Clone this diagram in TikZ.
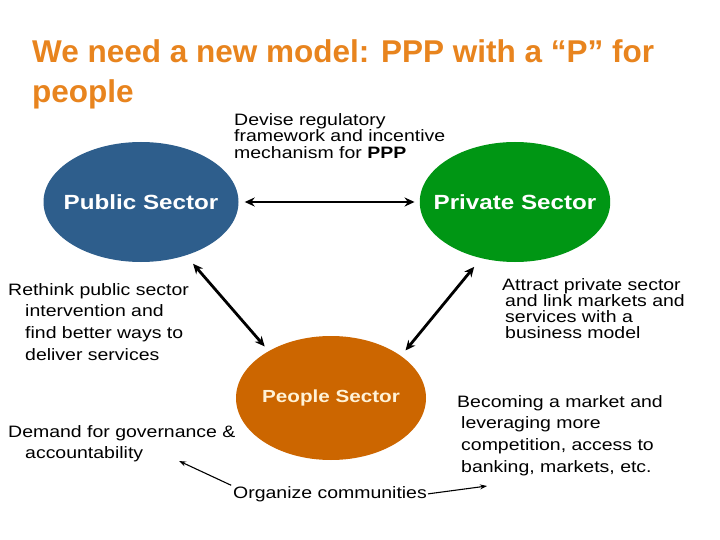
\documentclass[tikz,border=0pt]{standalone}
\usepackage{fontspec}
\setmainfont{Liberation Sans}[FakeStretch=1.18]
\newfontfamily\titlefont{Liberation Sans}
\usetikzlibrary{shapes.geometric,arrows.meta}
\definecolor{titleorange}{RGB}{232,132,30}
\definecolor{pubblue}{RGB}{46,94,140}
\definecolor{privgreen}{RGB}{0,150,20}
\definecolor{peoorange}{RGB}{204,102,0}
\definecolor{peotext}{RGB}{255,242,214}
\tikzset{
  sector/.style={ellipse,inner xsep=-14pt,inner ysep=0pt,font=\bfseries\fontsize{20.5}{24}\selectfont,text=white},
  note/.style={anchor=north west,inner sep=0pt,align=left},
  link/.style={{Stealth[length=10pt,width=9pt]}-{Stealth[length=10pt,width=9pt]},line width=2.8pt},
  hint/.style={-{Stealth[length=7pt,width=5pt]},line width=1.1pt}
}
\begin{document}
\begin{tikzpicture}[x=1pt,y=1pt,yscale=-1,xscale=1]
\fill[white] (0,0) rectangle (720,540);
\useasboundingbox (0,0) rectangle (720,540);
%Title
\node[note,text=titleorange,font=\titlefont\bfseries\fontsize{31.5}{40}\selectfont] (title) at (32,39) {We need a new model: PPP with a “P” for\\people};
%Shape: Ellipse [public]
\node[sector,fill=pubblue,minimum width=195pt,minimum height=120pt] (pub) at (141,202) {Public Sector};
%Shape: Ellipse [private]
\node[sector,fill=privgreen,minimum width=190pt,minimum height=120pt] (priv) at (515,202) {Private Sector};
%Shape: Ellipse [people]
\node[sector,fill=peoorange,text=peotext,font=\bfseries\fontsize{17.5}{20}\selectfont,minimum width=190pt,minimum height=124pt] (peo) at (331,398) {People Sector};
%Text
\node[note,font=\fontsize{16.5}{16.5}\selectfont] (devise) at (234,113) {Devise regulatory\\framework and incentive\\mechanism for \textbf{PPP}};
\node[note,font=\fontsize{16.5}{21.7}\selectfont] (rethink) at (8,283) {Rethink public sector\\\hspace*{17pt}intervention and\\\hspace*{17pt}find better ways to\\\hspace*{17pt}deliver services};
\node[note,font=\fontsize{16.5}{16}\selectfont] (attract) at (502,278) {Attract private sector\\\hspace*{3pt}and link markets and\\\hspace*{3pt}services with a\\\hspace*{3pt}business model};
\node[note,font=\fontsize{16.5}{21}\selectfont] (demand) at (8,425) {Demand for governance \&\\\hspace*{17pt}accountability};
\node[note,font=\fontsize{16.5}{21.7}\selectfont] (becoming) at (457,395) {Becoming a market and\\\hspace*{4pt}leveraging more\\\hspace*{4pt}competition, access to\\\hspace*{4pt}banking, markets, etc.};
\node[inner sep=0pt,font=\fontsize{16.5}{20}\selectfont] (org) at (330,494) {Organize communities};
\coordinate (acctip) at (179,461);
\coordinate (mkttip) at (487,486);
%Straight Lines
\draw[link,shorten <=6pt,shorten >=5pt] (pub.east) -- (priv.west);
\draw[link,shorten <=11pt,shorten >=6pt] (pub.-50) -- (peo.143);
\draw[link,shorten <=11pt,shorten >=7pt] (priv.-121) -- (peo.31);
\draw[hint,shorten <=2pt] (org.north west) -- (acctip);
\draw[hint,shorten <=1pt] (org.east) -- (mkttip);
\end{tikzpicture}
\end{document}
